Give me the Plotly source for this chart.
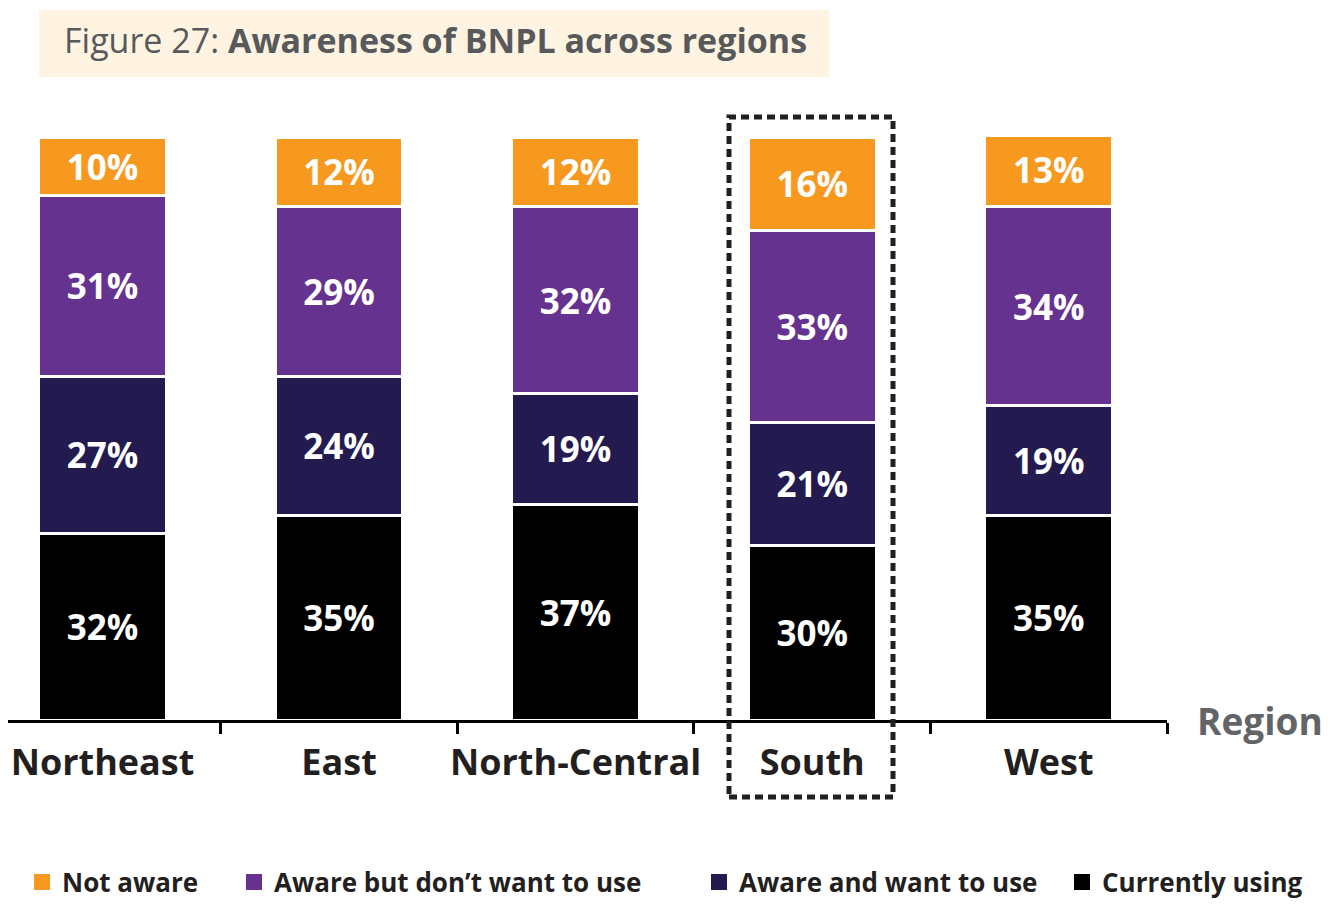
import plotly.graph_objects as go

regions = ["Northeast", "East", "North-Central", "South", "West"]
currently_using = [32, 35, 37, 30, 35]
aware_want = [27, 24, 19, 21, 19]
aware_dont_want = [31, 29, 32, 33, 34]
not_aware = [10, 12, 12, 16, 13]

series = [
    ("Currently using", currently_using, "#000000"),
    ("Aware and want to use", aware_want, "#231B4F"),
    ("Aware but don’t want to use", aware_dont_want, "#663290"),
    ("Not aware", not_aware, "#F7991F"),
]
legend_order = ["Not aware", "Aware but don’t want to use", "Aware and want to use", "Currently using"]
legend_text_x = [62, 274, 739, 1102]

FONT = "Open Sans"
OFF = 8  # page body margin
W, H = 1342 - OFF, 913 - OFF
PLOT_RIGHT = 1167 - OFF
BAR_TOP, AXIS_Y = 137 - OFF, 720 - OFF
L, R, T, B = 0, W - PLOT_RIGHT, BAR_TOP, H - AXIS_Y
PW = W - L - R
PH = H - T - B
cat_w = 236.55
r0 = -(102.5 - OFF) / cat_w

fig = go.Figure()
for name, vals, color in series:
    fig.add_trace(go.Bar(
        x=regions, y=vals, name=name, showlegend=False,
        marker=dict(color=color, line=dict(color="white", width=3)),
        width=0.54,
        texttemplate="%{y}%", textposition="inside", insidetextanchor="middle",
        textangle=0,
        textfont=dict(family=FONT, size=35, color="white", weight="bold"),
        hoverinfo="skip",
    ))

color_map = {n: c for n, _, c in series}
legend_layouts = {}
for i, name in enumerate(legend_order):
    key = "legend" if i == 0 else f"legend{i + 1}"
    fig.add_trace(go.Scatter(
        x=[None], y=[None], mode="markers", name=name,
        marker=dict(symbol="square", size=16, color=color_map[name]),
        showlegend=True, legend=key,
    ))
    legend_layouts[key] = dict(
        orientation="h", xref="container", yref="container",
        x=(legend_text_x[i] - 40 - OFF) / W, xanchor="left",
        y=1 - (882 - OFF) / H, yanchor="middle",
        font=dict(family=FONT, size=26, color="#231F20", weight="bold"),
        itemsizing="trace", bgcolor="rgba(0,0,0,0)",
    )

def px_x(p):
    return (p - OFF - L) / PW

def px_y(p):
    return (T + PH - (p - OFF)) / PH

shapes = [
    dict(type="rect", xref="paper", yref="paper",
         x0=px_x(39), x1=px_x(829), y0=px_y(77), y1=px_y(10),
         fillcolor="#FEF4E1", line=dict(width=0), layer="below"),
    dict(type="rect", xref="paper", yref="paper",
         x0=px_x(729), x1=px_x(893), y0=px_y(797), y1=px_y(117),
         fillcolor="rgba(0,0,0,0)", line=dict(color="#231F20", width=5, dash="8px,5px")),
]

fig.update_layout(
    width=W, height=H,
    margin=dict(l=L, r=R, t=T, b=B, pad=0, autoexpand=False),
    barmode="stack",
    plot_bgcolor="white", paper_bgcolor="white",
    font=dict(family=FONT, color="#231F20"),
    title=dict(
        text="Figure 27: <b>Awareness of BNPL across regions</b>",
        x=(64 - OFF) / W, xanchor="left", xref="container",
        y=1 - (41 - OFF) / H, yanchor="middle", yref="container",
        font=dict(family=FONT, size=34, color="#58595B"),
    ),
    xaxis=dict(
        type="category", range=[r0, 4.5], automargin=False,
        showline=True, linecolor="black", linewidth=3,
        ticks="outside", tickson="boundaries", ticklen=11, tickwidth=3, tickcolor="black",
        tickangle=0, ticklabelstandoff=9,
        tickfont=dict(family=FONT, size=36, color="#231F20", weight="bold"),
        showgrid=False, zeroline=False, fixedrange=True,
    ),
    yaxis=dict(range=[0, 100], visible=False, showgrid=False, zeroline=False,
               fixedrange=True, automargin=False),
    shapes=shapes,
    annotations=[
        dict(text="<b>Region</b>", xref="paper", yref="paper",
             x=px_x(1195), y=0, xanchor="left", yanchor="middle",
             showarrow=False, font=dict(family=FONT, size=37, color="#636466")),
    ],
    showlegend=True,
    **legend_layouts,
)

fig.write_html("out.html")
